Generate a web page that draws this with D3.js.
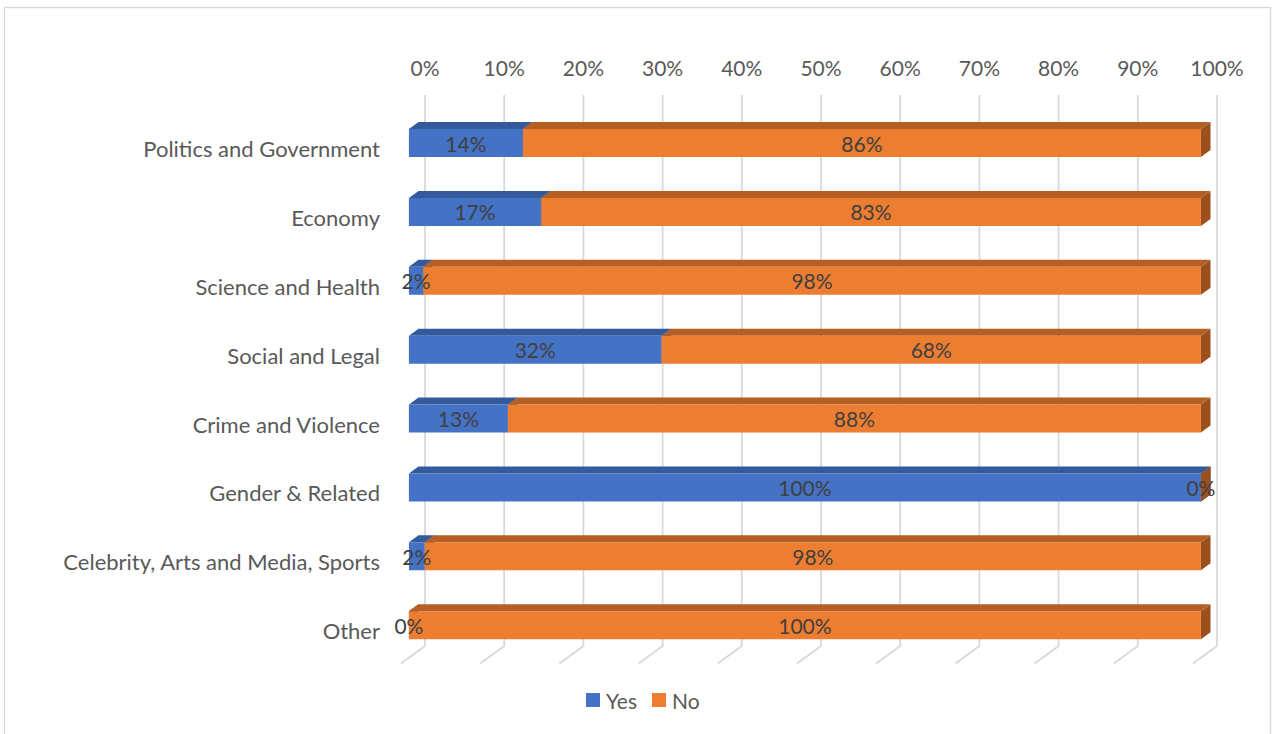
<!DOCTYPE html>
<html>
<head>
<meta charset="utf-8">
<script src="https://cdn.jsdelivr.net/npm/d3@7"></script>
<style>
  html, body { margin: 0; padding: 0; background: #fff; }
  svg { display: block; }
  text { font-family: Lato, "Open Sans", sans-serif; }
</style>
</head>
<body>
<svg id="chart" width="1272" height="734"></svg>
<script>
const categories = [
  "Politics and Government",
  "Economy",
  "Science and Health",
  "Social and Legal",
  "Crime and Violence",
  "Gender & Related",
  "Celebrity, Arts and Media, Sports",
  "Other"
];
const yesValues = [14.4, 16.7, 1.8, 31.9, 12.5, 100, 2.0, 0];
const noValues  = [85.6, 83.3, 98.2, 68.1, 87.5, 0, 98.0, 100];
const seriesNames = ["Yes", "No"];
const tickValues = [0, 10, 20, 30, 40, 50, 60, 70, 80, 90, 100];

const colors = {
  Yes: { front: "#4472C4", top: "#335A9C", side: "#2B4C85" },
  No:  { front: "#ED7D31", top: "#B55F24", side: "#9C501D" }
};

const svg = d3.select("#chart");

// Chart border
svg.append("rect")
  .attr("x", 4.5).attr("y", 7.5)
  .attr("width", 1266).attr("height", 740)
  .attr("fill", "#fff").attr("stroke", "#D9D9D9").attr("stroke-width", 1.5);

// Back wall scales
const x = d3.scaleLinear().domain([0, 100]).range([425, 1217]);
const y = d3.scaleBand().domain(categories).range([95, 646]);

// Oblique projection of depth (z: 0 = back wall, 1 = floor front)
const DX = -24, DY = 17.5;
const proj = (xb, yb, z) => [xb + DX * z, yb + DY * z];
const zFront = 0.67, zBack = 0.27;
const barOffset = 22.3, barH = 28;

// Gridlines on back wall + floor
const grid = svg.append("g");
tickValues.forEach(t => {
  const xb = x(t);
  const [fx, fy] = proj(xb, y.range()[1], 1);
  grid.append("path")
    .attr("d", `M${xb},${y.range()[0]} L${xb},${y.range()[1]} L${fx},${fy}`)
    .attr("fill", "none").attr("stroke", "#D9D9D9").attr("stroke-width", 1.8);
});

// Tick labels along top
svg.append("g").selectAll("text").data(tickValues).join("text")
  .attr("x", d => x(d)).attr("y", 67.5)
  .attr("text-anchor", "middle").attr("dominant-baseline", "central")
  .attr("font-size", 21).attr("fill", "#595959")
  .text(d => d + "%");

// Bars
const stacks = categories.map((c, i) => {
  const segs = [];
  let acc = 0;
  [yesValues[i], noValues[i]].forEach((v, k) => {
    segs.push({ cat: c, series: seriesNames[k], x0: acc, x1: acc + v, v });
    acc += v;
  });
  return segs;
});

const bars = svg.append("g");
stacks.forEach(segs => {
  segs.forEach(s => {
    const yb = y(s.cat) + barOffset;
    const c = colors[s.series];
    const xa = x(s.x0), xe = x(s.x1);
    const F = (xv, yv) => proj(xv, yv, zFront);
    const B = (xv, yv) => proj(xv, yv, zBack);
    const pts = a => a.map(p => p.join(",")).join(" ");
    // right side face
    bars.append("polygon")
      .attr("points", pts([F(xe, yb), B(xe, yb), B(xe, yb + barH), F(xe, yb + barH)]))
      .attr("fill", c.side);
    // top face
    bars.append("polygon")
      .attr("points", pts([F(xa, yb), B(xa, yb), B(xe, yb), F(xe, yb)]))
      .attr("fill", c.top);
    // front face
    bars.append("polygon")
      .attr("points", pts([F(xa, yb), F(xe, yb), F(xe, yb + barH), F(xa, yb + barH)]))
      .attr("fill", c.front);
  });
});

// Data labels
const labels = svg.append("g");
stacks.forEach(segs => {
  segs.forEach(s => {
    const yb = y(s.cat) + barOffset;
    const [lx0, ly] = proj(x(s.x0), yb + barH / 2, zFront);
    const [lx1] = proj(x(s.x1), yb + barH / 2, zFront);
    labels.append("text")
      .attr("x", (lx0 + lx1) / 2).attr("y", ly)
      .attr("text-anchor", "middle").attr("dominant-baseline", "central")
      .attr("font-size", 21).attr("fill", "#404040")
      .text(Math.round(s.v) + "%");
  });
});

// Category labels
svg.append("g").selectAll("text").data(categories).join("text")
  .attr("x", 380)
  .attr("y", d => proj(0, y(d) + barOffset + barH / 2, zFront)[1] + 5.5)
  .attr("text-anchor", "end").attr("dominant-baseline", "central")
  .attr("font-size", 22).attr("fill", "#595959")
  .text(d => d);

// Legend
const legend = svg.append("g");
const legendItems = [
  { name: "Yes", x: 586 },
  { name: "No", x: 652 }
];
legendItems.forEach(it => {
  legend.append("rect")
    .attr("x", it.x).attr("y", 693).attr("width", 14).attr("height", 14)
    .attr("fill", colors[it.name].front);
  legend.append("text")
    .attr("x", it.x + 20).attr("y", 700)
    .attr("dominant-baseline", "central")
    .attr("font-size", 21).attr("fill", "#595959")
    .text(it.name);
});
</script>
</body>
</html>
